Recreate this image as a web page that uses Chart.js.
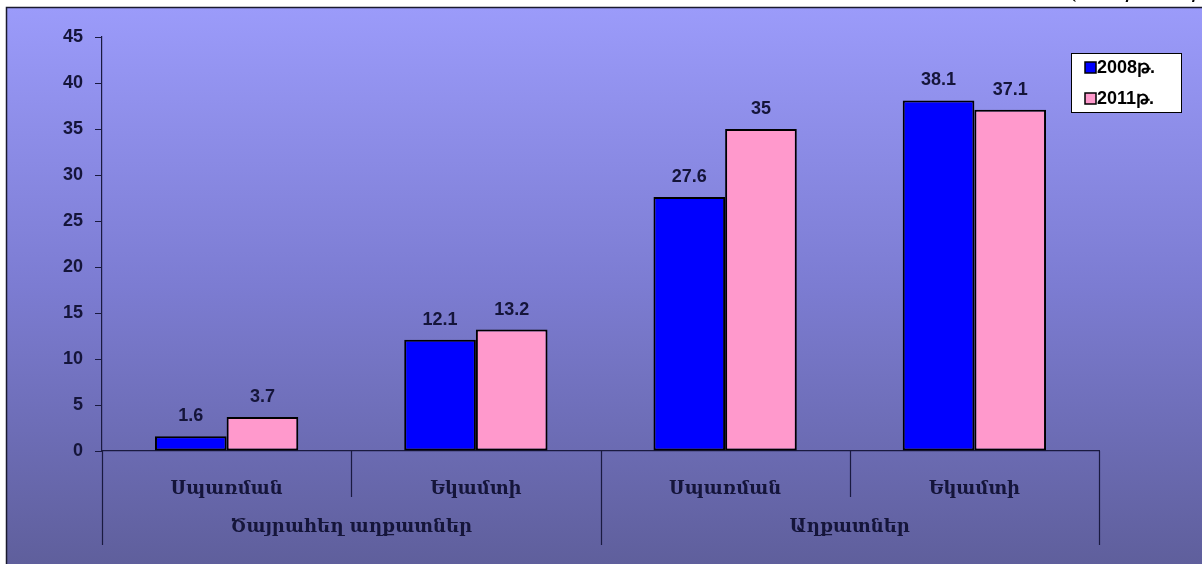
<!DOCTYPE html>
<html>
<head>
<meta charset="utf-8">
<script src="https://cdn.jsdelivr.net/npm/chart.js@4.4.0/dist/chart.umd.min.js"></script>
<style>
html,body{margin:0;padding:0;background:#fff;}
#wrap{width:1202px;height:564px;position:relative;}
</style>
</head>
<body>
<div id="wrap"><canvas id="c" width="1202" height="564"></canvas></div>
<script>
const categories = ["Սպառման", "Եկամտի", "Սպառման", "Եկամտի"];
const groups = ["Ծայրահեղ աղքատներ", "Աղքատներ"];
const seriesNames = ["2008թ.", "2011թ."];
const values2008 = [1.6, 12.1, 27.6, 38.1];
const values2011 = [3.7, 13.2, 35, 37.1];
const unitText = "(տոկոսներով)";

const bgPlugin = {
  id: 'bg',
  beforeDraw(chart) {
    const ctx = chart.ctx;
    ctx.save();
    ctx.fillStyle = '#ffffff';
    ctx.fillRect(0, 0, 1202, 564);
    const g = ctx.createLinearGradient(0, 8, 0, 564);
    g.addColorStop(0, '#9b9bfa');
    g.addColorStop(0.5, '#7c7cd2');
    g.addColorStop(1, '#5f5f9c');
    ctx.fillStyle = g;
    ctx.fillRect(7, 8, 1195, 556);
    ctx.strokeStyle = '#1a1a2e';
    ctx.lineWidth = 1.5;
    ctx.beginPath();
    ctx.moveTo(6.5, 564); ctx.lineTo(6.5, 7.5); ctx.lineTo(1202, 7.5);
    ctx.stroke();
    // cropped unit text at top right
    ctx.beginPath();
    ctx.rect(0, 0, 1202, 6.5);
    ctx.clip();
    ctx.fillStyle = '#000';
    ctx.font = 'italic 24px "Liberation Serif"';
    ctx.textBaseline = 'alphabetic';
    ctx.textAlign = 'left';
    ctx.fillText(unitText, 1070, -3);
    ctx.restore();
  }
};

const extraPlugin = {
  id: 'extra',
  afterDraw(chart) {
    const ctx = chart.ctx;
    const ys = chart.scales.y;
    const y0 = ys.getPixelForValue(0);
    const ca = chart.chartArea;
    ctx.save();
    // category dividers
    ctx.strokeStyle = '#1a1a40';
    ctx.lineWidth = 1.2;
    const n = categories.length;
    const step = (ca.right - ca.left) / n;
    for (let i = 0; i <= n; i++) {
      const x = Math.round(ca.left + i * step) + 0.5;
      const long = (i % 2 === 0);
      ctx.beginPath();
      ctx.moveTo(x, y0);
      ctx.lineTo(x, long ? 545 : 497);
      ctx.stroke();
    }
    // group labels
    ctx.fillStyle = '#15153a';
    ctx.font = 'bold 18px "DejaVu Serif"';
    ctx.textAlign = 'center';
    ctx.textBaseline = 'middle';
    groups.forEach((gname, gi) => {
      const cx = ca.left + (gi * 2 + 1) * step;
      ctx.fillText(gname, cx, 527);
    });
    // data labels
    ctx.font = 'bold 18px "Liberation Sans", Arial';
    ctx.textBaseline = 'bottom';
    chart.data.datasets.forEach((ds, di) => {
      const meta = chart.getDatasetMeta(di);
      meta.data.forEach((bar, i) => {
        ctx.fillText(String(ds.data[i]), bar.x, bar.y - 11);
      });
    });
    // legend
    const lx = 1071, ly = 53, lw = 110, lh = 59;
    ctx.fillStyle = '#ffffff';
    ctx.fillRect(lx, ly, lw, lh);
    ctx.strokeStyle = '#000';
    ctx.lineWidth = 1;
    ctx.strokeRect(lx + 0.5, ly + 0.5, lw, lh);
    chart.data.datasets.forEach((ds, di) => {
      const sy = 62 + di * 31;
      ctx.fillStyle = ds.backgroundColor;
      ctx.fillRect(1085, sy, 11, 11);
      ctx.strokeStyle = '#000';
      ctx.lineWidth = 1.5;
      ctx.strokeRect(1085, sy, 11, 11);
      ctx.fillStyle = '#000';
      ctx.textAlign = 'left';
      ctx.textBaseline = 'middle';
      ctx.font = 'bold 18px "Liberation Sans", Arial';
      ctx.fillText(ds.label, 1097, sy + 6);
    });
    ctx.restore();
  }
};

new Chart(document.getElementById('c'), {
  type: 'bar',
  data: {
    labels: categories,
    datasets: [
      { label: seriesNames[0], data: values2008, backgroundColor: '#0000ff', borderColor: '#000', borderWidth: 2, borderSkipped: false },
      { label: seriesNames[1], data: values2011, backgroundColor: '#ff99cc', borderColor: '#000', borderWidth: 2, borderSkipped: false }
    ]
  },
  options: {
    responsive: false,
    animation: false,
    layout: { padding: { left: 0, top: 37, right: 103, bottom: 0 } },
    plugins: { legend: { display: false }, tooltip: { enabled: false } },
    datasets: { bar: { categoryPercentage: 0.575, barPercentage: 1 } },
    scales: {
      x: {
        grid: { display: false },
        border: { display: true, color: '#1a1a40', width: 1.2 },
        ticks: { color: '#15153a', font: { family: 'DejaVu Serif', size: 18, weight: 'bold' }, padding: 20, maxRotation: 0 },
        afterFit(s) { s.height = 113; }
      },
      y: {
        min: 0, max: 45,
        ticks: { stepSize: 5, color: '#15153a', font: { family: 'Liberation Sans', size: 18, weight: 'bold' }, padding: 12 },
        grid: { drawOnChartArea: false, drawTicks: true, tickLength: 7, color: '#1a1a40' },
        border: { display: true, color: '#1a1a40', width: 1.2 },
        afterFit(s) { s.width = 102; }
      }
    }
  },
  plugins: [bgPlugin, extraPlugin]
});
</script>
</body>
</html>
